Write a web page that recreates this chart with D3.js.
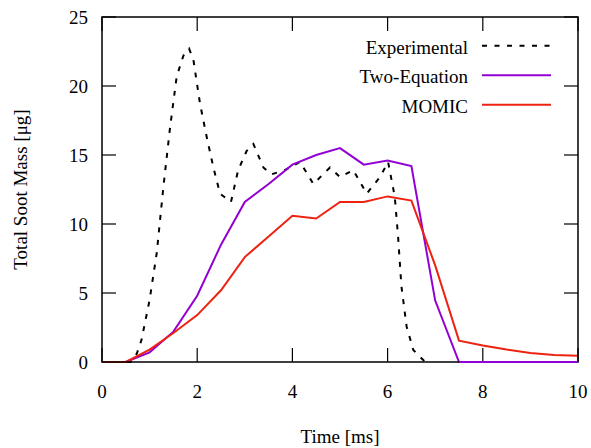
<!DOCTYPE html>
<html>
<head>
<meta charset="utf-8">
<script src="https://cdn.jsdelivr.net/npm/d3@7"></script>
<style>
  body { margin: 0; background: #fff; }
  svg text { font-family: "Liberation Serif", "Times New Roman", serif; fill: #000; }
</style>
</head>
<body>
<svg id="chart" width="591" height="448"></svg>
<script>
// ---- Data ----
const seriesNames = ["Experimental", "Two-Equation", "MOMIC"];

const expTime = [0, 0.6, 0.73, 0.83, 1.0, 1.15, 1.29, 1.43, 1.57, 1.71, 1.83, 1.92, 2.06, 2.2, 2.34, 2.48, 2.71, 2.86, 3.04, 3.18, 3.39, 3.56, 3.84, 4.16, 4.44, 4.79, 5.0, 5.28, 5.56, 5.84, 6.01, 6.15, 6.22, 6.29, 6.4, 6.54, 6.79, 6.9];
const expMass = [0, 0, 0.6, 1.6, 4.5, 7.9, 12.7, 17.0, 20.7, 22.2, 22.7, 21.9, 18.7, 16.3, 14.1, 12.2, 11.6, 13.9, 15.3, 15.8, 14.1, 13.6, 13.9, 14.5, 12.9, 14.1, 13.4, 13.9, 12.2, 13.4, 14.5, 12.0, 9.1, 5.5, 2.56, 0.87, 0, 0];

const simTime = [0, 0.5, 1.0, 1.5, 2.0, 2.5, 3.0, 3.5, 4.0, 4.5, 5.0, 5.5, 6.0, 6.5, 7.0, 7.5, 8.0, 8.5, 9.0, 9.5, 10.0];
const twoEqMass = [0, 0, 0.7, 2.2, 4.8, 8.5, 11.6, 12.9, 14.3, 15.0, 15.5, 14.3, 14.6, 14.2, 4.45, 0, 0, 0, 0, 0, 0];
const momicMass = [0, 0, 0.9, 2.1, 3.4, 5.2, 7.6, 9.1, 10.6, 10.4, 11.6, 11.6, 12.0, 11.7, 7.0, 1.55, 1.2, 0.9, 0.65, 0.5, 0.45];

const xTicks = [0, 2, 4, 6, 8, 10];
const yTicks = [0, 5, 10, 15, 20, 25];

// ---- Layout ----
const svg = d3.select("#chart");
const pL = 102, pR = 578, pT = 17, pB = 362;
const x = d3.scaleLinear().domain([0, 10]).range([pL, pR]);
const y = d3.scaleLinear().domain([0, 25]).range([pB, pT]);
const tickLen = 14;
const fontSize = 19;

const clipId = "plotclip";
svg.append("defs").append("clipPath").attr("id", clipId)
  .append("rect").attr("x", pL).attr("y", pT - 2).attr("width", pR - pL).attr("height", pB - pT + 4);

// ticks (inward, mirrored)
const tg = svg.append("g").attr("stroke", "#000").attr("stroke-width", 1.2);
xTicks.forEach(t => {
  tg.append("line").attr("x1", x(t)).attr("x2", x(t)).attr("y1", pB).attr("y2", pB - tickLen);
  tg.append("line").attr("x1", x(t)).attr("x2", x(t)).attr("y1", pT).attr("y2", pT + tickLen);
});
yTicks.forEach(t => {
  tg.append("line").attr("x1", pL).attr("x2", pL + tickLen).attr("y1", y(t)).attr("y2", y(t));
  tg.append("line").attr("x1", pR).attr("x2", pR - tickLen).attr("y1", y(t)).attr("y2", y(t));
});

// tick labels
svg.append("g").selectAll("text").data(xTicks).join("text")
  .attr("x", d => x(d)).attr("y", 398)
  .attr("text-anchor", "middle").attr("font-size", fontSize)
  .text(d => d);
svg.append("g").selectAll("text").data(yTicks).join("text")
  .attr("x", 88).attr("y", d => y(d) + 6.5)
  .attr("text-anchor", "end").attr("font-size", fontSize)
  .text(d => d);

// axis labels
svg.append("text").attr("x", (pL + pR) / 2).attr("y", 443)
  .attr("text-anchor", "middle").attr("font-size", fontSize).text("Time [ms]");
svg.append("text")
  .attr("transform", `translate(27,${(pT + pB) / 2}) rotate(-90)`)
  .attr("text-anchor", "middle").attr("font-size", fontSize).text("Total Soot Mass [μg]");

// lines
const line = d3.line().x(d => x(d[0])).y(d => y(d[1]));
const expData = expTime.map((t, i) => [t, expMass[i]]);
const twoData = simTime.map((t, i) => [t, twoEqMass[i]]);
const momData = simTime.map((t, i) => [t, momicMass[i]]);

const colors = ["#000000", "#9400d3", "#ee2211"];
const dashes = ["5,7.5", null, null];
const datasets = [expData, twoData, momData];

const pg = svg.append("g").attr("clip-path", `url(#${clipId})`);
datasets.forEach((ds, i) => {
  pg.append("path").datum(ds)
    .attr("d", line)
    .attr("fill", "none")
    .attr("stroke", colors[i])
    .attr("stroke-width", 2)
    .attr("stroke-dasharray", dashes[i])
    .attr("stroke-linejoin", "miter");
});

// frame
svg.append("rect").attr("x", pL).attr("y", pT).attr("width", pR - pL).attr("height", pB - pT)
  .attr("fill", "none").attr("stroke", "#000").attr("stroke-width", 1.5);

// redraw purple zero segment on top of axis
svg.append("g").attr("clip-path", `url(#${clipId})`)
  .append("path").datum(twoData.filter(d => d[0] >= 7.5))
  .attr("d", line).attr("fill", "none").attr("stroke", colors[1]).attr("stroke-width", 2);

// legend
const legY = [45.7, 75.3, 104.7];
const lg = svg.append("g");
seriesNames.forEach((name, i) => {
  lg.append("text").attr("x", 468).attr("y", legY[i] + 8)
    .attr("text-anchor", "end").attr("font-size", fontSize).text(name);
  lg.append("line").attr("x1", 482).attr("x2", 551).attr("y1", legY[i]).attr("y2", legY[i])
    .attr("stroke", colors[i]).attr("stroke-width", 2)
    .attr("stroke-dasharray", dashes[i]);
});
</script>
</body>
</html>
